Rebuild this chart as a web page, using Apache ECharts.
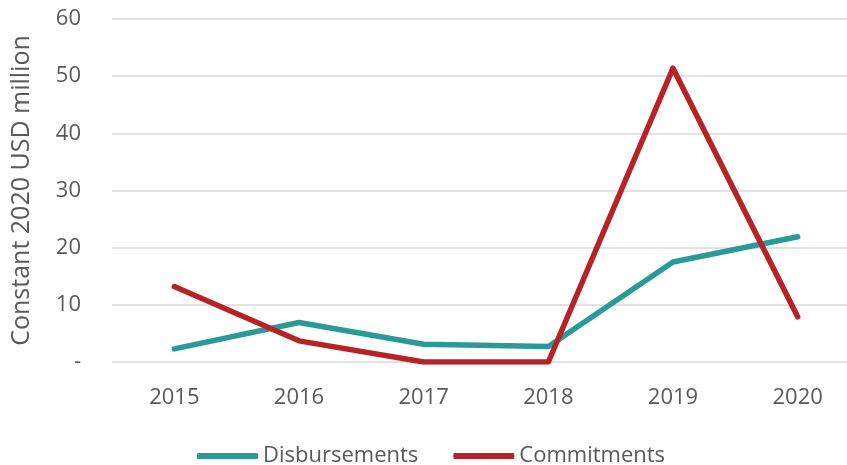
<!DOCTYPE html>
<html>
<head>
<meta charset="utf-8">
<script src="https://cdn.jsdelivr.net/npm/echarts@6/dist/echarts.min.js"></script>
<style>
  html, body { margin: 0; padding: 0; background: #fff; }
  #chart { width: 847px; height: 465px; }
</style>
</head>
<body>
<div id="chart"></div>
<script>
var years = ['2015', '2016', '2017', '2018', '2019', '2020'];
var disbursements = [2.3, 6.9, 3.1, 2.7, 17.5, 21.9];
var commitments = [13.2, 3.7, 0, 0, 51.4, 7.9];
var yTicks = [0, 10, 20, 30, 40, 50, 60];

var myChart = echarts.init(document.getElementById('chart'));
var font = '"Open Sans", "Liberation Sans", sans-serif';

var option = {
    animation: false,
    grid: {
        left: 112,
        right: -13,
        top: 19,
        bottom: 103,
        outerBoundsMode: 'none',
        containLabel: false
    },
    legend: {
        bottom: -2,
        left: 197,
        padding: 0,
        itemWidth: 61,
        itemHeight: 6,
        itemGap: 35,
        icon: 'roundRect',
        textStyle: { color: '#595959', fontSize: 22, fontFamily: font },
        data: ['Disbursements', 'Commitments']
    },
    xAxis: {
        type: 'category',
        data: years,
        axisLine: { show: false },
        axisTick: { show: false },
        axisLabel: { color: '#595959', fontSize: 22, fontFamily: font, margin: 25 }
    },
    yAxis: {
        type: 'value',
        min: yTicks[0],
        max: yTicks[yTicks.length - 1],
        interval: 10,
        name: 'Constant 2020 USD million',
        nameLocation: 'middle',
        nameGap: 78,
        nameTextStyle: { color: '#595959', fontSize: 25, fontFamily: font },
        axisLine: { show: false },
        axisTick: { show: false },
        axisLabel: {
            color: '#595959', fontSize: 22, fontFamily: font, margin: 31,
            formatter: function (v) { return v === 0 ? '-' : v; }
        },
        splitLine: { lineStyle: { color: '#D9D9D9', width: 1.5 } }
    },
    series: [
        {
            name: 'Disbursements',
            type: 'line',
            data: disbursements,
            symbol: 'none',
            color: '#2A9A97',
            lineStyle: { width: 5.5, cap: 'round', join: 'round' }
        },
        {
            name: 'Commitments',
            type: 'line',
            data: commitments,
            symbol: 'none',
            color: '#B72226',
            lineStyle: { width: 5.5, cap: 'round', join: 'round' }
        }
    ]
};

myChart.setOption(option);
</script>
</body>
</html>
